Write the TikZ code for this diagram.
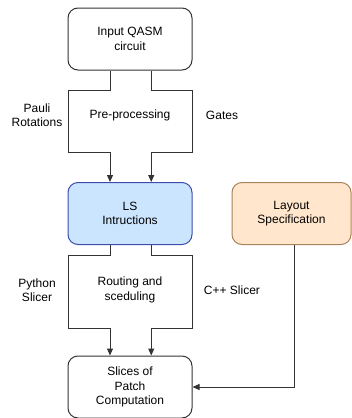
\documentclass[tikz,border=0pt]{standalone}
\usepackage{fontspec}
\setmainfont{Liberation Sans}
\usetikzlibrary{arrows.meta,calc}

\definecolor{boxline}{HTML}{333333}
\definecolor{lsfill}{HTML}{CCE5FF}
\definecolor{lsline}{HTML}{3C4CA8}
\definecolor{layfill}{HTML}{FFE6CC}
\definecolor{layline}{HTML}{A8825A}

\tikzset{
  stage/.style={draw=boxline, line width=1pt, rounded corners=10pt,
    minimum width=124pt, minimum height=62pt, align=center, inner sep=0pt},
  flow/.style={draw=boxline, line width=1pt,
    -{Triangle[length=7pt,width=6pt]}},
  lbl/.style={align=center, inner sep=0pt}
}

\begin{document}
\begin{tikzpicture}[x=1pt, y=-1pt, font=\fontsize{12}{14.5}\selectfont]
  \useasboundingbox (0,0) rectangle (352,418);

  \node[stage] (input) at (130,39) {Input QASM\\circuit};

  \node[stage, fill=lsfill, draw=lsline] (ls) at (130,213.5)
    {LS\\Intructions};

  \node[stage, fill=layfill, draw=layline, minimum width=119pt]
    (layout) at (291.5,213.5) {Layout\\Specification};

  \node[stage] (slices) at (130,387) {Slices of\\Patch\\Computation};

  % first stage: pre-processing
  \coordinate (inL) at ($(input.south west)!0.34!(input.south east)$);
  \coordinate (inR) at ($(input.south west)!0.67!(input.south east)$);

  \draw[flow] (inL) -- ++(0,20) -- ++(-42,0) -- ++(0,62) -- ++(42,0)
    -- (inL |- ls.north);
  \draw[flow] (inR) -- ++(0,20) -- ++(41,0) -- ++(0,62) -- ++(-41,0)
    -- (inR |- ls.north);

  \node[lbl] (pauli) at (37,115) {Pauli\\Rotations};
  \node[lbl] (prep) at (130,115) {Pre-processing};
  \node[lbl] (gates) at (222,115) {Gates};

  % second stage: routing
  \coordinate (lsL) at ($(ls.south west)!0.34!(ls.south east)$);
  \coordinate (lsR) at ($(ls.south west)!0.67!(ls.south east)$);

  \draw[flow] (lsL) -- ++(0,10) -- ++(-42,0) -- ++(0,73) -- ++(42,0)
    -- (lsL |- slices.north);
  \draw[flow] (lsR) -- ++(0,10) -- ++(41,0) -- ++(0,73) -- ++(-41,0)
    -- (lsR |- slices.north);

  \node[lbl] (python) at (37,290) {Python\\Slicer};
  \node[lbl] (route) at (130,290) {Routing and\\sceduling};
  \node[lbl] (cpp) at (232,290) {C++ Slicer};

  \draw[flow] ([xshift=3pt]layout.south) |- (slices.east);
\end{tikzpicture}
\end{document}
